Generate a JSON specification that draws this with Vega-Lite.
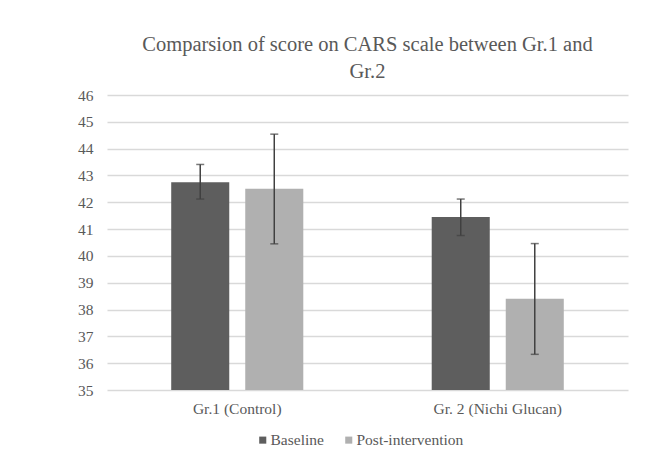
{
  "$schema": "https://vega.github.io/schema/vega-lite/v6.json",
  "width": 521,
  "height": 295,
  "autosize": {"type": "none"},
  "padding": {"left": 107, "top": 95, "right": 31, "bottom": 64},
  "background": "white",
  "title": {
    "text": ["Comparsion of score on CARS scale between Gr.1 and", "Gr.2"],
    "fontSize": 20.5,
    "font": "Liberation Serif",
    "fontWeight": "normal",
    "color": "#595959",
    "lineHeight": 27,
    "anchor": "middle",
    "frame": "group",
    "offset": 6
  },
  "data": {
    "values": [
      {"group": "Gr.1 (Control)", "series": "Baseline", "mean": 42.75, "lo": 42.12, "hi": 43.41},
      {"group": "Gr.1 (Control)", "series": "Post-intervention", "mean": 42.5, "lo": 40.45, "hi": 44.54},
      {"group": "Gr. 2 (Nichi Glucan)", "series": "Baseline", "mean": 41.45, "lo": 40.76, "hi": 42.12},
      {"group": "Gr. 2 (Nichi Glucan)", "series": "Post-intervention", "mean": 38.4, "lo": 36.33, "hi": 40.46}
    ]
  },
  "encoding": {
    "x": {
      "field": "group",
      "type": "nominal",
      "sort": null,
      "scale": {"paddingInner": 0.493, "paddingOuter": 0.2465},
      "axis": {"title": null, "labelAngle": 0, "domain": false, "ticks": false, "labelPadding": 11}
    },
    "xOffset": {"field": "series", "type": "nominal", "sort": ["Baseline", "Post-intervention"], "scale": {"paddingInner": 0.216, "paddingOuter": 0}}
  },
  "layer": [
    {
      "mark": {"type": "bar", "clip": true},
      "encoding": {
        "y": {
          "field": "mean",
          "type": "quantitative",
          "scale": {"domain": [35, 46], "nice": false, "zero": false},
          "axis": {"title": null, "values": [35, 36, 37, 38, 39, 40, 41, 42, 43, 44, 45, 46], "labelOverlap": false, "labelPadding": 14}
        },
        "color": {
          "field": "series",
          "type": "nominal",
          "scale": {"domain": ["Baseline", "Post-intervention"], "range": ["#5e5e5e", "#b0b0b0"]},
          "legend": {"title": null, "orient": "none", "legendX": 148, "legendY": 337, "direction": "horizontal", "symbolType": "square", "symbolSize": 50, "labelOffset": 0, "columnPadding": 17, "symbolStrokeWidth": 0}
        }
      }
    },
    {
      "mark": {"type": "rule", "color": "#404040", "strokeWidth": 1.5},
      "encoding": {
        "y": {"field": "lo", "type": "quantitative", "scale": {"domain": [35, 46], "nice": false, "zero": false}, "axis": {"title": null, "values": [35, 36, 37, 38, 39, 40, 41, 42, 43, 44, 45, 46], "labelOverlap": false, "labelPadding": 14}},
        "y2": {"field": "hi"}
      }
    },
    {
      "mark": {"type": "tick", "color": "#404040", "size": 8, "thickness": 1.5},
      "encoding": {"y": {"field": "lo", "type": "quantitative", "scale": {"domain": [35, 46], "nice": false, "zero": false}, "axis": {"title": null, "values": [35, 36, 37, 38, 39, 40, 41, 42, 43, 44, 45, 46], "labelOverlap": false, "labelPadding": 14}}}
    },
    {
      "mark": {"type": "tick", "color": "#404040", "size": 8, "thickness": 1.5},
      "encoding": {"y": {"field": "hi", "type": "quantitative", "scale": {"domain": [35, 46], "nice": false, "zero": false}, "axis": {"title": null, "values": [35, 36, 37, 38, 39, 40, 41, 42, 43, 44, 45, 46], "labelOverlap": false, "labelPadding": 14}}}
    }
  ],
  "config": {
    "view": {"stroke": null},
    "font": "Liberation Serif",
    "axis": {"labelFont": "Liberation Serif", "labelFontSize": 15.5, "labelColor": "#595959", "domain": false, "ticks": false, "gridColor": "#d9d9d9", "gridWidth": 1.5},
    "legend": {"labelFont": "Liberation Serif", "labelFontSize": 15.5, "labelColor": "#595959"}
  }
}
